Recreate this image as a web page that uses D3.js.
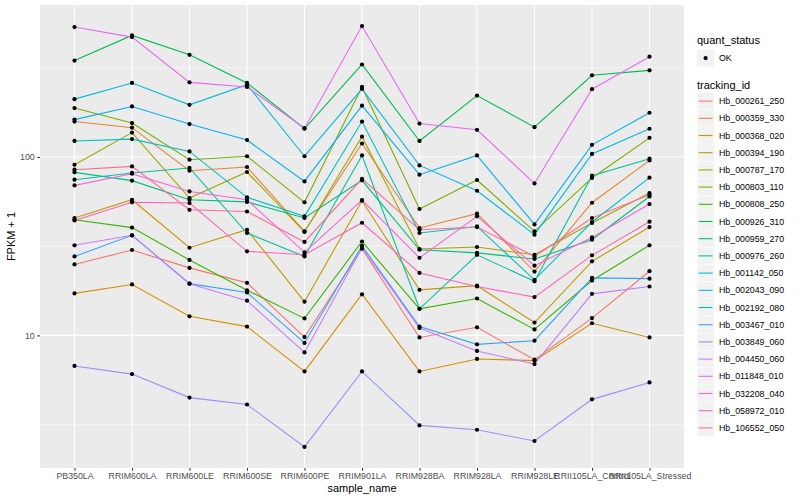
<!DOCTYPE html>
<html>
<head>
<meta charset="utf-8">
<script src="https://cdn.jsdelivr.net/npm/d3@7"></script>
<style>
  html, body { margin: 0; padding: 0; background: #ffffff; }
  svg { display: block; font-family: "Liberation Sans", Arial, Helvetica, sans-serif; }
</style>
</head>
<body>
<svg id="chart" width="800" height="500"></svg>
<script>
// ---- data (FPKM + 1) ----
const samples = ["PB350LA","RRIM600LA","RRIM600LE","RRIM600SE","RRIM600PE","RRIM901LA","RRIM928BA","RRIM928LA","RRIM928LE","RRII105LA_Control","RRII105LA_Stressed"];
const trackingIds = ["Hb_000261_250","Hb_000359_330","Hb_000368_020","Hb_000394_190","Hb_000787_170","Hb_000803_110","Hb_000808_250","Hb_000926_310","Hb_000959_270","Hb_000976_260","Hb_001142_050","Hb_002043_090","Hb_002192_080","Hb_003467_010","Hb_003849_060","Hb_004450_060","Hb_011848_010","Hb_032208_040","Hb_058972_010","Hb_106552_050"];
const yTicks = [10, 100];

const hb_000261_250 = [25.0, 30.1, 23.9, 19.7, 9.79, 30.6, 9.74, 11.1, 7.31, 12.5, 22.9];
const hb_000359_330 = [158, 146, 83.8, 87.9, 38.3, 119, 40.0, 48.1, 22.8, 55.4, 95.7];
const hb_000368_020 = [17.2, 19.3, 12.8, 11.2, 6.28, 17.0, 6.28, 7.38, 7.22, 11.7, 9.74];
const hb_000394_190 = [45.5, 57.6, 31.0, 39.1, 15.45, 56.9, 18.0, 19.0, 11.8, 26.0, 40.5];
const hb_000787_170 = [90.5, 137, 58.9, 82.4, 38.0, 130, 30.5, 31.3, 28.3, 42.7, 62.8];
const hb_000803_110 = [188, 155, 96.6, 101, 55.7, 247, 51.1, 74.3, 38.3, 76.3, 128];
const hb_000808_250 = [44.5, 40.2, 26.5, 17.9, 12.45, 33.6, 14.1, 16.1, 10.8, 20.3, 32.0];
const hb_000926_310 = [347, 480, 374, 260, 144, 330, 123, 221, 147, 287, 306];
const hb_000959_270 = [82.0, 73.7, 57.6, 56.0, 45.5, 74.0, 30.2, 29.0, 26.8, 34.4, 60.1];
const hb_000976_260 = [74.6, 81.4, 86.8, 37.5, 27.7, 102, 14.1, 28.3, 20.1, 78.6, 97.8];
const hb_001142_050 = [123, 126, 107.5, 59.4, 46.5, 158, 37.5, 40.8, 20.5, 43.2, 76.6];
const hb_002043_090 = [211, 260, 196, 254, 101, 241, 89.7, 64.7, 36.7, 104, 144];
const hb_002192_080 = [162, 192, 153, 124.5, 73.0, 194, 79.6, 102, 41.9, 117, 177];
const hb_003467_010 = [27.7, 36.4, 19.5, 17.4, 9.07, 31.8, 11.2, 8.91, 9.34, 21.0, 20.8];
const hb_003849_060 = [6.74, 6.07, 4.48, 4.10, 2.37, 6.28, 3.13, 2.96, 2.56, 4.38, 5.45];
const hb_004450_060 = [32.0, 36.4, 19.5, 15.65, 8.03, 31.0, 11.0, 8.18, 6.91, 17.1, 18.8];
const hb_011848_010 = [535, 470, 262, 247, 145, 542, 154, 142, 71.1, 240, 365];
const hb_032208_040 = [69.3, 80.6, 64.1, 57.6, 29.2, 57.4, 27.2, 46.5, 24.6, 35.4, 54.5];
const hb_058972_010 = [44.1, 55.7, 55.2, 29.6, 28.3, 42.8, 22.4, 18.8, 16.4, 28.1, 43.4];
const hb_106552_050 = [84.9, 88.6, 50.6, 49.5, 33.4, 75.5, 39.1, 40.5, 27.7, 45.5, 61.5];

const seriesValues = [hb_000261_250, hb_000359_330, hb_000368_020, hb_000394_190, hb_000787_170,
  hb_000803_110, hb_000808_250, hb_000926_310, hb_000959_270, hb_000976_260, hb_001142_050,
  hb_002043_090, hb_002192_080, hb_003467_010, hb_003849_060, hb_004450_060, hb_011848_010,
  hb_032208_040, hb_058972_010, hb_106552_050];

const palette = ["#F8766D","#EA8331","#D89000","#C09B00","#A3A500","#7CAE00","#39B600","#00BB4E","#00BF7D","#00C1A3","#00BFC4","#00BAE0","#00B0F6","#35A2FF","#9590FF","#C77CFF","#E76BF3","#FA62DB","#FF62BC","#FF6C91"];

// ---- layout ----
const panel = { left: 40, right: 684, top: 5, bottom: 468 };
const svg = d3.select("#chart");

const series = trackingIds.map((id, i) => ({
  id, color: palette[i],
  points: samples.map((s, j) => ({ sample: s, value: seriesValues[i][j] }))
}));

const allVals = seriesValues.flat();
const lmin = Math.log10(d3.min(allVals)), lmax = Math.log10(d3.max(allVals));
const pad = (lmax - lmin) * 0.05;

const x = d3.scalePoint().domain(samples).range([panel.left, panel.right]).padding(0.6);
const y = d3.scaleLog().domain([Math.pow(10, lmin - pad), Math.pow(10, lmax + pad)]).range([panel.bottom, panel.top]);

// panel background
svg.append("rect").attr("x", panel.left).attr("y", panel.top)
  .attr("width", panel.right - panel.left).attr("height", panel.bottom - panel.top)
  .attr("fill", "#EBEBEB");

// minor y grid
const minor = [Math.pow(10, 0.5), Math.pow(10, 1.5), Math.pow(10, 2.5)].filter(v => v > y.domain()[0] && v < y.domain()[1]);
svg.append("g").selectAll("line").data(minor).join("line")
  .attr("x1", panel.left).attr("x2", panel.right)
  .attr("y1", d => y(d)).attr("y2", d => y(d))
  .attr("stroke", "#ffffff").attr("stroke-width", 0.55);

// major grid
svg.append("g").selectAll("line").data(yTicks).join("line")
  .attr("x1", panel.left).attr("x2", panel.right)
  .attr("y1", d => y(d)).attr("y2", d => y(d))
  .attr("stroke", "#ffffff").attr("stroke-width", 1.1);
svg.append("g").selectAll("line").data(samples).join("line")
  .attr("x1", d => x(d)).attr("x2", d => x(d))
  .attr("y1", panel.top).attr("y2", panel.bottom)
  .attr("stroke", "#ffffff").attr("stroke-width", 1.1);

// lines
const line = d3.line().x(d => x(d.sample)).y(d => y(d.value));
svg.append("g").selectAll("path").data(series).join("path")
  .attr("d", d => line(d.points))
  .attr("fill", "none").attr("stroke", d => d.color).attr("stroke-width", 1.1);

// points
svg.append("g").selectAll("circle")
  .data(series.flatMap(s => s.points)).join("circle")
  .attr("cx", d => x(d.sample)).attr("cy", d => y(d.value))
  .attr("r", 2.1).attr("fill", "#000000");

// axes
const xAxis = d3.axisBottom(x).tickSize(2.75).tickPadding(2.5);
const gx = svg.append("g").attr("transform", `translate(0,${panel.bottom})`).call(xAxis);
gx.select(".domain").remove();
gx.selectAll(".tick line").attr("stroke", "#333333").attr("stroke-width", 1.05);
gx.selectAll(".tick text").attr("fill", "#4D4D4D").style("font-size", "8.8px")
  .style("font-family", "'Liberation Sans', Arial, sans-serif");

const yAxis = d3.axisLeft(y).tickValues(yTicks).tickFormat(d3.format("d")).tickSize(2.75).tickPadding(2.5);
const gy = svg.append("g").attr("transform", `translate(${panel.left},0)`).call(yAxis);
gy.select(".domain").remove();
gy.selectAll(".tick line").attr("stroke", "#333333").attr("stroke-width", 1.05);
gy.selectAll(".tick text").attr("fill", "#4D4D4D").style("font-size", "8.8px")
  .style("font-family", "'Liberation Sans', Arial, sans-serif");

// axis titles
svg.append("text").attr("x", (panel.left + panel.right) / 2).attr("y", 492)
  .attr("text-anchor", "middle").attr("font-size", 11).attr("fill", "#000").text("sample_name");
svg.append("text").attr("transform", `translate(15,${(panel.top + panel.bottom) / 2}) rotate(-90)`)
  .attr("text-anchor", "middle").attr("font-size", 11).attr("fill", "#000").text("FPKM + 1");

// legends
const lg = svg.append("g");
const keyX = 697, keySize = 17.2, textX = 719;
lg.append("text").attr("x", keyX).attr("y", 44).attr("font-size", 11).attr("fill", "#000").text("quant_status");
lg.append("rect").attr("x", keyX).attr("y", 49.5).attr("width", keySize).attr("height", keySize)
  .attr("fill", "#F2F2F2").attr("stroke", "#ffffff").attr("stroke-width", 0.5);
lg.append("circle").attr("cx", keyX + keySize / 2).attr("cy", 49.5 + keySize / 2).attr("r", 2.1).attr("fill", "#000");
lg.append("text").attr("x", textX).attr("y", 61.2).attr("font-size", 8.8).attr("fill", "#000").text("OK");

lg.append("text").attr("x", keyX).attr("y", 88.5).attr("font-size", 11).attr("fill", "#000").text("tracking_id");
const keys = lg.selectAll("g.key").data(series).join("g").attr("class", "key")
  .attr("transform", (d, i) => `translate(${keyX},${92.5 + i * keySize})`);
keys.append("rect").attr("width", keySize).attr("height", keySize)
  .attr("fill", "#F2F2F2").attr("stroke", "#ffffff").attr("stroke-width", 0.5);
keys.append("line").attr("x1", 1.7).attr("x2", keySize - 1.7)
  .attr("y1", keySize / 2).attr("y2", keySize / 2)
  .attr("stroke", d => d.color).attr("stroke-width", 1.1);
keys.append("text").attr("x", textX - keyX).attr("y", keySize / 2 + 3.1)
  .attr("font-size", 8.8).attr("fill", "#000").text(d => d.id);
</script>
</body>
</html>
